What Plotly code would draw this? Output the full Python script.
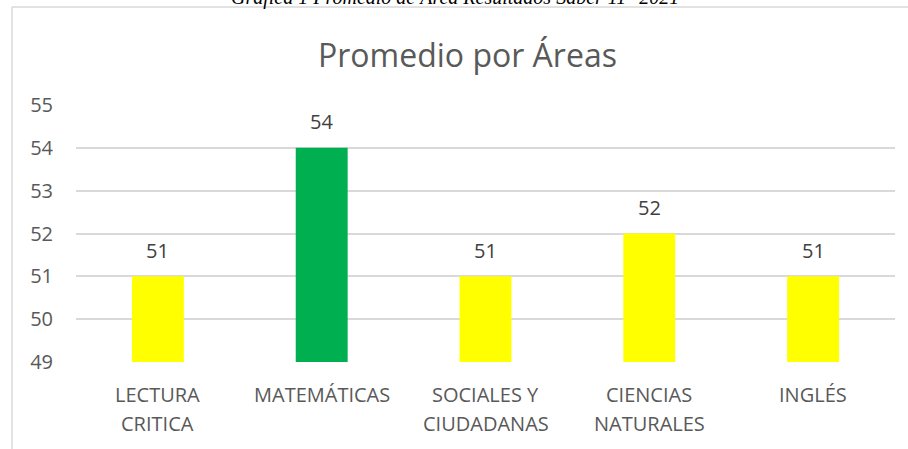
import plotly.graph_objects as go

categories = ["LECTURA CRITICA", "MATEMÁTICAS", "SOCIALES Y CIUDADANAS", "CIENCIAS NATURALES", "INGLÉS"]
label_line1 = ["LECTURA", "MATEMÁTICAS", "SOCIALES Y", "CIENCIAS", "INGLÉS"]
label_line2 = ["CRITICA", "", "CIUDADANAS", "NATURALES", ""]
values = [51, 54, 51, 52, 51]
colors = ["#FFFF00", "#00B050", "#FFFF00", "#FFFF00", "#FFFF00"]
y_ticks = [49, 50, 51, 52, 53, 54, 55]
title = "Promedio por Áreas"
caption = "Gráfica 1 Promedio de Área Resultados Saber 11° 2021"

W, H = 908, 449
L, R, T, B = 76, 13, 105, 87
pw, ph = W - L - R, H - T - B

def px_x(x):
    return (x - L) / pw

def px_y(y):
    return (H - B - y) / ph

FONT = "Open Sans, sans-serif"
GRAY = "#595959"

fig = go.Figure()
fig.add_trace(go.Bar(
    x=categories, y=values, marker=dict(color=colors, line=dict(width=0)),
    width=0.317, hoverinfo="x+y", cliponaxis=False,
))

annotations = []
for c, v in zip(categories, values):
    annotations.append(dict(x=c, y=v, xref="x", yref="y", text=str(v), showarrow=False,
                            yanchor="middle", yshift=26, font=dict(family=FONT, size=20, color="#404040")))
for c, a, b in zip(categories, label_line1, label_line2):
    annotations.append(dict(x=c, y=px_y(394), xref="x", yref="paper", text=a, showarrow=False,
                            yanchor="middle", font=dict(family=FONT, size=20, color=GRAY)))
    if b:
        annotations.append(dict(x=c, y=px_y(423), xref="x", yref="paper", text=b, showarrow=False,
                                yanchor="middle", font=dict(family=FONT, size=20, color=GRAY)))
annotations.append(dict(x=px_x(467), y=px_y(54), xref="paper", yref="paper", text=title, showarrow=False,
                        xanchor="center", yanchor="middle", font=dict(family=FONT, size=32, color=GRAY)))
annotations.append(dict(x=px_x(455), y=px_y(11), xref="paper", yref="paper", text="<i>" + caption + "</i>",
                        showarrow=False, xanchor="center", yanchor="bottom",
                        font=dict(family="Liberation Serif, Times New Roman, serif", size=20, color="#000000")))

shapes = [
    dict(type="line", xref="paper", yref="paper", x0=px_x(12), x1=px_x(912), y0=px_y(7), y1=px_y(7),
         line=dict(color="#D9D9D9", width=1.5)),
    dict(type="line", xref="paper", yref="paper", x0=px_x(12), x1=px_x(12), y0=px_y(7), y1=px_y(452),
         line=dict(color="#D9D9D9", width=1.5)),
]

fig.update_layout(
    width=W, height=H,
    margin=dict(l=L, r=R, t=T, b=B, pad=0),
    paper_bgcolor="white", plot_bgcolor="white",
    showlegend=False,
    annotations=annotations, shapes=shapes,
    xaxis=dict(showticklabels=False, showgrid=False, zeroline=False, showline=False, ticks="",
               range=[-0.5, len(categories) - 0.5]),
    yaxis=dict(range=[49, 55], tickvals=y_ticks, showgrid=True, gridcolor="#D9D9D9", gridwidth=1.5,
               zeroline=False, showline=False, ticks="", ticklabelstandoff=22,
               tickfont=dict(family=FONT, size=20, color=GRAY)),
)

fig.write_html("out.html", config={"displayModeBar": False},
               post_script="document.body.style.margin='0px';document.body.style.overflow='hidden';")
